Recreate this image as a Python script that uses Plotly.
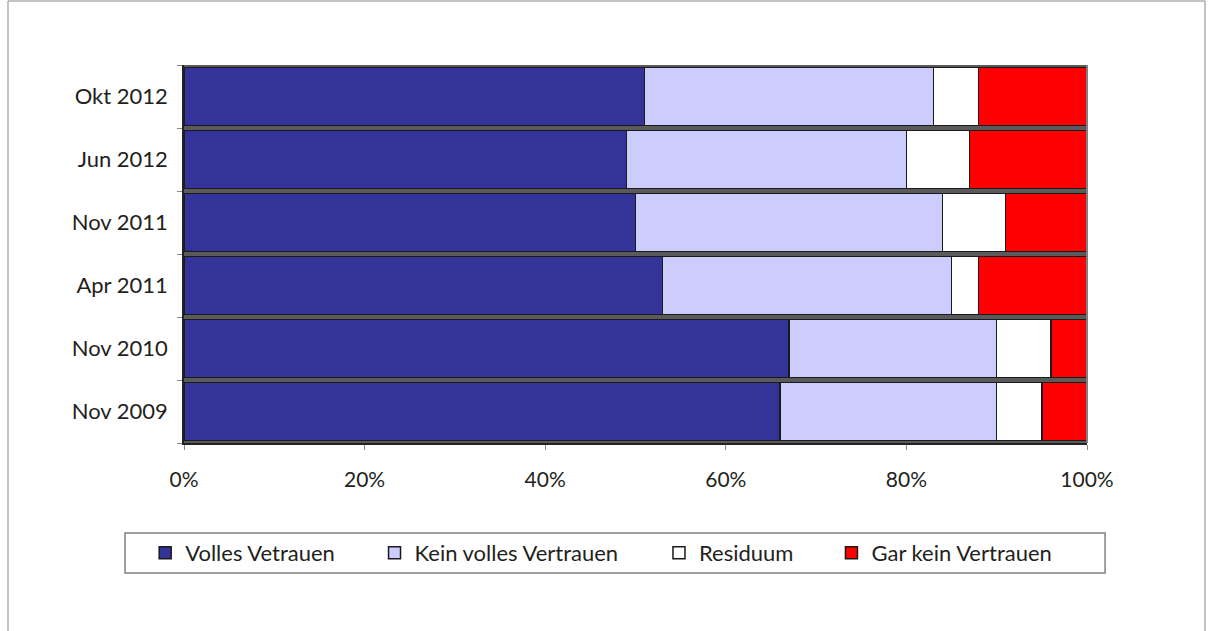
import plotly.graph_objects as go

# survey waves (top to bottom as shown)
waves = ["Okt 2012", "Jun 2012", "Nov 2011", "Apr 2011", "Nov 2010", "Nov 2009"]

volles = [51, 49, 50, 53, 67, 66]
kein_volles = [32, 31, 34, 32, 23, 24]
residuum = [5, 7, 7, 3, 6, 5]
gar_kein = [12, 13, 9, 12, 4, 5]

series_names = ["Volles Vetrauen", "Kein volles Vertrauen", "Residuum", "Gar kein Vertrauen"]
series_values = [volles, kein_volles, residuum, gar_kein]
colors = ["#333399", "#ccccff", "#ffffff", "#ff0000"]

FONT = "Lato"
TXT = "#231f20"

# reverse so first wave is on top
y_cat = waves[::-1]

fig = go.Figure()
legend_ids = ["legend", "legend2", "legend3", "legend4"]
for name, vals, col, lg in zip(series_names, series_values, colors, legend_ids):
    fig.add_trace(go.Bar(
        y=y_cat,
        x=[v / 100 for v in vals[::-1]],
        name=name,
        orientation="h",
        marker=dict(color=col, line=dict(color="#1a1a1a", width=1.5)),
        legend=lg,
        showlegend=True,
    ))

# legend x positions (paper coords)
leg_x = [-0.043, 0.211, 0.526, 0.717]
leg_common = dict(
    orientation="h", y=-0.291, yanchor="middle", xanchor="left",
    bgcolor="rgba(0,0,0,0)", borderwidth=0,
    font=dict(family=FONT, size=22, color=TXT),
)
legends = {}
for lg, lx in zip(legend_ids, leg_x):
    legends[lg] = dict(x=lx, **leg_common)

fig.update_layout(
    barmode="stack",
    bargap=0.08,
    showlegend=True,
    width=1213, height=631,
    margin=dict(l=184, r=126, t=65, b=188),
    paper_bgcolor="white",
    plot_bgcolor="#5a5a5a",
    font=dict(family=FONT, size=21, color=TXT),
    **legends,
)

fig.update_xaxes(
    range=[0, 1], tickformat=".0%", dtick=0.2,
    showgrid=False, zeroline=False,
    showline=True, linecolor="#222", linewidth=1.5,
    ticks="outside", ticklen=5, tickcolor="#888",
    ticklabelstandoff=12,
    tickfont=dict(family=FONT, size=21, color=TXT),
)
fig.update_yaxes(
    categoryorder="array", categoryarray=y_cat,
    showgrid=False, zeroline=False,
    showline=True, linecolor="#222", linewidth=1.5,
    ticks="outside", ticklen=5, tickcolor="#888",
    tickson="boundaries",
    ticklabelstandoff=10,
    tickfont=dict(family=FONT, size=22, color=TXT),
)

# right wall line
fig.add_shape(type="line", xref="paper", yref="paper", x0=1.0, x1=1.0, y0=0, y1=1,
              line=dict(color="#808080", width=2))
# legend box
fig.add_shape(type="rect", xref="paper", yref="paper",
              x0=-0.0653, x1=1.02, y0=-0.344, y1=-0.238,
              line=dict(color="#808080", width=1.5), fillcolor="rgba(0,0,0,0)")
# outer frame
fig.add_shape(type="rect", xref="paper", yref="paper",
              x0=-0.1949, x1=1.1307, y0=-0.6, y1=1.1693,
              line=dict(color="#888888", width=1), fillcolor="rgba(0,0,0,0)")

fig.write_html("out.html", config={"displayModeBar": False},
               post_script="document.body.style.margin='0';")
